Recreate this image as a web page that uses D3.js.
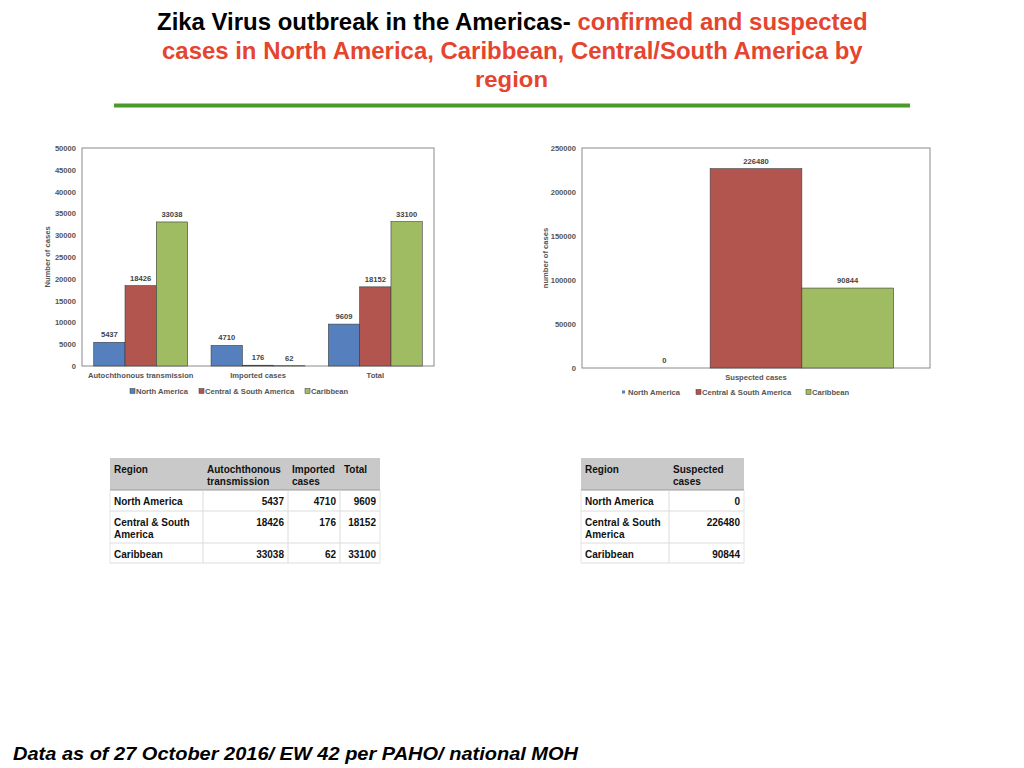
<!DOCTYPE html>
<html><head><meta charset="utf-8">
<script src="https://cdn.jsdelivr.net/npm/d3@7"></script>
<style>
html,body{margin:0;padding:0;background:#fff;}
svg{display:block;}
</style></head>
<body>
<svg id="c" width="1024" height="768"></svg>
<script>
// ---------- DATA ----------
const confirmedCategories = ["Autochthonous  transmission", "Imported cases", "Total"];
const regions = ["North America", "Central & South America", "Caribbean"];
const northAmerica = [5437, 4710, 9609];
const centralSouthAmerica = [18426, 176, 18152];
const caribbean = [33038, 62, 33100];
const confirmedTicks = [0, 5000, 10000, 15000, 20000, 25000, 30000, 35000, 40000, 45000, 50000];

const suspectedCategories = ["Suspected cases"];
const suspectedNorthAmerica = [0];
const suspectedCentralSouthAmerica = [226480];
const suspectedCaribbean = [90844];
const suspectedTicks = [0, 50000, 100000, 150000, 200000, 250000];

const confirmedTableHeader = ["Region", "Autochthonous transmission", "Imported cases", "Total"];
const suspectedTableHeader = ["Region", "Suspected cases"];

// ---------- STYLE ----------
const colors = ["#5580bd", "#b3554f", "#a0bc62"];
const svg = d3.select("#c");
const FONT = "'Liberation Sans', Arial, Helvetica, sans-serif";
const CF = 7.6; // chart font size

function fitText(sel, x0, width) {
  const w = sel.node().getComputedTextLength();
  const s = width / w;
  sel.attr("x", 0).attr("transform", `translate(${x0},0) scale(${s},1)`);
}

// ---------- TITLE ----------
const t1 = svg.append("text").attr("y", 30).attr("font-family", FONT).attr("font-weight", "bold").attr("font-size", 23);
t1.append("tspan").attr("fill", "#000").text("Zika Virus outbreak in the Americas- ");
t1.append("tspan").attr("fill", "#e5452e").text("confirmed and suspected");
fitText(t1, 157, 711);
const t2 = svg.append("text").attr("y", 59).attr("font-family", FONT).attr("font-weight", "bold").attr("font-size", 23).attr("fill", "#e5452e")
  .text("cases in North America, Caribbean, Central/South America by");
fitText(t2, 162, 701);
const t3 = svg.append("text").attr("y", 87).attr("font-family", FONT).attr("font-weight", "bold").attr("font-size", 23).attr("fill", "#e5452e")
  .text("region");
fitText(t3, 475, 73);

svg.append("rect").attr("x", 114).attr("y", 103.5).attr("width", 796).attr("height", 4).attr("fill", "#4a9a2c");

// ---------- FOOTER ----------
const ft = svg.append("text").attr("y", 760).attr("font-family", FONT).attr("font-weight", "bold").attr("font-style", "italic").attr("font-size", 19).attr("fill", "#000")
  .text("Data as of 27 October 2016/ EW 42 per PAHO/ national MOH");
fitText(ft, 13, 565);

// ---------- GENERIC BAR CHART ----------
function barChart(opt) {
  const g = svg.append("g");
  const x0 = d3.scaleBand().domain(opt.categories).range([opt.left, opt.right]).paddingInner(opt.pi).paddingOuter(opt.po);
  const x1 = d3.scaleBand().domain(regions).range([0, x0.bandwidth()]);
  const y = d3.scaleLinear().domain([0, opt.max]).range([opt.bottom, opt.top]);

  g.append("rect").attr("x", opt.left).attr("y", opt.top).attr("width", opt.right - opt.left).attr("height", opt.bottom - opt.top)
    .attr("fill", "none").attr("stroke", "#8a8a8a").attr("stroke-width", 1);

  const ya = d3.axisLeft(y).tickValues(opt.ticks).tickSize(0).tickPadding(6).tickFormat(d3.format("d"));
  const yg = g.append("g").attr("transform", `translate(${opt.left},0)`).call(ya);
  yg.select(".domain").remove();
  yg.selectAll("text").attr("font-family", FONT).attr("font-size", CF).attr("font-weight", "bold").attr("fill", "#555");

  g.append("text").attr("transform", `translate(${opt.ytx},${(opt.top + opt.bottom) / 2}) rotate(-90)`)
    .attr("text-anchor", "middle").attr("font-family", FONT).attr("font-size", CF).attr("font-weight", "bold").attr("fill", "#555")
    .text(opt.ytitle);

  const rows = opt.categories.map((c, i) => ({c, vals: opt.series.map(s => s[i])}));
  const grp = g.selectAll(".grp").data(rows).join("g").attr("transform", d => `translate(${x0(d.c)},0)`);
  grp.selectAll(".b").data(d => d.vals.map((v, k) => ({v, r: regions[k], k}))).join("rect")
    .attr("x", d => x1(d.r)).attr("width", x1.bandwidth())
    .attr("y", d => y(d.v)).attr("height", d => opt.bottom - y(d.v))
    .attr("fill", d => colors[d.k]).attr("stroke", d => d.v > 0 ? "#3a3a3a" : "none").attr("stroke-width", 0.6);
  grp.selectAll(".lbl").data(d => d.vals.map((v, k) => ({v, r: regions[k], k}))).join("text")
    .attr("x", d => x1(d.r) + x1.bandwidth() / 2).attr("y", d => y(d.v) - 5)
    .attr("text-anchor", "middle").attr("font-family", FONT).attr("font-size", CF).attr("font-weight", "bold").attr("fill", "#444")
    .text(d => d.v);

  const xa = d3.axisBottom(x0).tickSize(0).tickPadding(opt.xpad);
  const xg = g.append("g").attr("transform", `translate(0,${opt.bottom})`).call(xa);
  xg.select(".domain").remove();
  xg.selectAll("text").attr("font-family", FONT).attr("font-size", CF).attr("font-weight", "bold").attr("fill", "#555");

  const lg = g.append("g");
  regions.forEach((r, k) => {
    const lx = opt.legendX[k];
    const sz = opt.legendSize[k];
    lg.append("rect").attr("x", lx).attr("y", opt.legendY - sz / 2).attr("width", sz).attr("height", sz)
      .attr("fill", colors[k]).attr("stroke", sz > 4 ? "#3a3a3a" : "none").attr("stroke-width", 0.5);
    lg.append("text").attr("x", lx + opt.legendGap).attr("y", opt.legendY + 2.7)
      .attr("font-family", FONT).attr("font-size", CF).attr("font-weight", "bold").attr("fill", "#555").text(r);
  });
}

barChart({
  categories: confirmedCategories,
  series: [northAmerica, centralSouthAmerica, caribbean],
  left: 82, right: 434, top: 148, bottom: 366, max: 50000, ticks: confirmedTicks,
  pi: 0.2, po: 0.1, ytx: 50, ytitle: "Number of cases", xpad: 7,
  legendX: [130, 199, 305], legendSize: [5, 5, 5], legendGap: 6, legendY: 391
});

barChart({
  categories: suspectedCategories,
  series: [suspectedNorthAmerica, suspectedCentralSouthAmerica, suspectedCaribbean],
  left: 582, right: 930, top: 148, bottom: 368, max: 250000, ticks: suspectedTicks,
  pi: 0.2, po: 0.106, ytx: 548, ytitle: "number of cases", xpad: 7,
  legendX: [622, 696, 806], legendSize: [3, 5, 5], legendGap: 6, legendY: 392
});

// ---------- TABLES ----------
const confirmedSeries = [northAmerica, centralSouthAmerica, caribbean];
const confirmedRows = regions.map((r, i) => [r, confirmedSeries[i][0], confirmedSeries[i][1], confirmedSeries[i][2]]);
const suspectedSeries = [suspectedNorthAmerica, suspectedCentralSouthAmerica, suspectedCaribbean];
const suspectedRows = regions.map((r, i) => [r, suspectedSeries[i][0]]);

function table(x, colEdges, header, rows) {
  const g = svg.append("g");
  const top = 458, headH = 32;
  const rowH = [21, 32, 20];
  const W = colEdges[colEdges.length - 1];
  g.append("rect").attr("x", x).attr("y", top).attr("width", W).attr("height", headH).attr("fill", "#c9c9c9");
  g.append("line").attr("x1", x).attr("x2", x + W).attr("y1", top + headH).attr("y2", top + headH).attr("stroke", "#9a9a9a").attr("stroke-width", 1);
  const txt = (tx, ty, s, anchor) => g.append("text").attr("x", tx).attr("y", ty).attr("text-anchor", anchor)
    .attr("font-family", FONT).attr("font-size", 10).attr("font-weight", "bold").attr("fill", "#111").text(s);
  header.forEach((h, c) => {
    const words = h.split(" ");
    const lines = (c === 0) ? [h] : (words.length > 1 ? [words[0], words.slice(1).join(" ")] : [h]);
    lines.forEach((ln, li) => txt(x + colEdges[c] + 4, top + 14.5 + li * 12, ln, "start"));
  });
  let yy = top + headH;
  rows.forEach((row, ri) => {
    const h = rowH[ri];
    row.forEach((v, c) => {
      if (c === 0) {
        const s = String(v);
        if (s === "Central & South America") {
          txt(x + 4, yy + 14.5, "Central & South", "start");
          txt(x + 4, yy + 26.5, "America", "start");
        } else txt(x + 4, yy + 14.5, s, "start");
      } else {
        txt(x + colEdges[c + 1] - 4, yy + 14.5, String(v), "end");
      }
    });
    yy += h;
    g.append("line").attr("x1", x).attr("x2", x + W).attr("y1", yy).attr("y2", yy).attr("stroke", "#dcdcdc").attr("stroke-width", 1);
  });
  colEdges.forEach((c, i) => {
    g.append("line").attr("x1", x + c).attr("x2", x + c).attr("y1", top + headH).attr("y2", yy)
      .attr("stroke", (i === 0 || i === colEdges.length - 1) ? "#e4e4e4" : "#dcdcdc").attr("stroke-width", 1);
  });
}

table(110, [0, 93, 178, 230, 270], confirmedTableHeader, confirmedRows);
table(581, [0, 88, 163], suspectedTableHeader, suspectedRows);
</script>
</body></html>
